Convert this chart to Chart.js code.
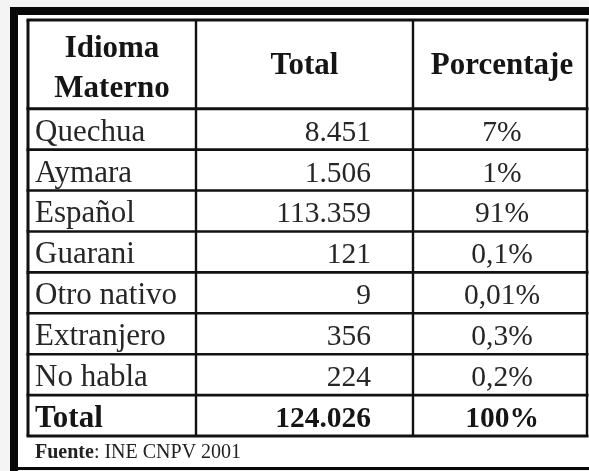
<!DOCTYPE html>
<html>
<head>
<meta charset="utf-8">
<script src="https://cdn.jsdelivr.net/npm/chart.js@4.4.1/dist/chart.umd.min.js"></script>
<style>
  html, body { margin: 0; padding: 0; background: #f4f4f4; }
  canvas { display: block; }
</style>
</head>
<body>
<canvas id="tabla" width="589" height="471"></canvas>
<script>
const encabezados = ['Idioma\nMaterno', 'Total', 'Porcentaje'];
const idiomas = ['Quechua', 'Aymara', 'Español', 'Guarani', 'Otro nativo', 'Extranjero', 'No habla'];
const totales = [8451, 1506, 113359, 121, 9, 356, 224];
const porcentajes = [7, 1, 91, 0.1, 0.01, 0.3, 0.2];
const filaTotal = ['Total', 124026, 100];
const fuente = ['Fuente', ': INE CNPV 2001'];

// layout of the grid, in scale units
const colEdges = [0, 168, 385, 559];
const headerRows = 2.17;
const yMax = headerRows + idiomas.length + 1;

const fmtMiles = v => String(v).replace(/\B(?=(\d{3})+(?!\d))/g, '.');
const fmtPct = v => String(v).replace('.', ',') + '%';

const SERIF = '"Liberation Serif", "Times New Roman", serif';

const tablePlugin = {
    id: 'tablePlugin',
    beforeDraw(chart) {
        const ctx = chart.ctx;
        ctx.save();
        ctx.fillStyle = '#f4f4f4';
        ctx.fillRect(0, 0, chart.width, chart.height);
        ctx.fillStyle = '#ffffff';
        ctx.fillRect(10, 7, chart.width - 10, 462);
        // outer frame of the scanned page
        ctx.fillStyle = '#080808';
        ctx.fillRect(10, 7, 8, chart.height - 7);
        ctx.fillRect(10, 7, chart.width - 10, 8);
        ctx.fillRect(10, 467, chart.width - 10, 3);
        ctx.restore();
    },
    afterDraw(chart) {
        const { ctx, scales: { x, y } } = chart;
        const rows = idiomas.length + 1;
        ctx.save();
        ctx.strokeStyle = '#111111';

        // horizontal rules
        const yEdges = [0, headerRows];
        for (let i = 1; i <= rows; i++) yEdges.push(headerRows + i);
        yEdges.forEach((v, i) => {
            const py = y.getPixelForValue(v);
            ctx.lineWidth = (i === 0 || i === 1 || i === yEdges.length - 1) ? 3 : 2.6;
            ctx.beginPath();
            ctx.moveTo(x.getPixelForValue(0) - 1.5, py);
            ctx.lineTo(x.getPixelForValue(colEdges[3]) + 1.5, py);
            ctx.stroke();
        });
        // vertical rules
        colEdges.forEach((v, i) => {
            const px = x.getPixelForValue(v);
            ctx.lineWidth = (i === 0) ? 3 : 2.4;
            ctx.beginPath();
            ctx.moveTo(px, y.getPixelForValue(0));
            ctx.lineTo(px, y.getPixelForValue(yMax));
            ctx.stroke();
        });

        const center = c => x.getPixelForValue((colEdges[c] + colEdges[c + 1]) / 2);
        const leftOf = c => x.getPixelForValue(colEdges[c]) + 7;
        const rightOf = c => x.getPixelForValue(colEdges[c + 1]) - 42;

        // header
        ctx.fillStyle = '#151515';
        ctx.font = 'bold 31px ' + SERIF;
        ctx.textAlign = 'center';
        ctx.textBaseline = 'alphabetic';
        const hTop = y.getPixelForValue(0);
        const hBot = y.getPixelForValue(headerRows);
        const lines = encabezados[0].split('\n');
        ctx.fillText(lines[0], center(0), hTop + 37);
        ctx.fillText(lines[1], center(0), hTop + 77);
        ctx.fillText(encabezados[1], center(1), (hTop + hBot) / 2 + 10);
        ctx.fillText(encabezados[2], center(2) + 2, (hTop + hBot) / 2 + 10);

        // body rows
        ctx.fillStyle = '#262626';
        const base = r => y.getPixelForValue(headerRows + r + 1) - 9;
        idiomas.forEach((name, r) => {
            ctx.font = '31px ' + SERIF;
            ctx.textAlign = 'left';
            ctx.fillText(name, leftOf(0), base(r));
            ctx.font = '29.5px ' + SERIF;
            ctx.textAlign = 'right';
            ctx.fillText(fmtMiles(totales[r]), rightOf(1), base(r));
            ctx.textAlign = 'center';
            ctx.fillText(fmtPct(porcentajes[r]), center(2) + 2, base(r));
        });

        // total row
        ctx.fillStyle = '#151515';
        const rt = idiomas.length;
        ctx.font = 'bold 31px ' + SERIF;
        ctx.textAlign = 'left';
        ctx.fillText(filaTotal[0], leftOf(0), base(rt));
        ctx.font = 'bold 29.5px ' + SERIF;
        ctx.textAlign = 'right';
        ctx.fillText(fmtMiles(filaTotal[1]), rightOf(1), base(rt));
        ctx.textAlign = 'center';
        ctx.fillText(fmtPct(filaTotal[2]), center(2) + 2, base(rt));

        // source note
        const fy = y.getPixelForValue(yMax) + 22;
        let fx = leftOf(0);
        ctx.fillStyle = '#222222';
        ctx.textAlign = 'left';
        ctx.font = 'bold 20px ' + SERIF;
        ctx.fillText(fuente[0], fx, fy);
        fx += ctx.measureText(fuente[0]).width;
        ctx.font = '20px ' + SERIF;
        ctx.fillText(fuente[1], fx, fy);
        ctx.restore();
    }
};

new Chart(document.getElementById('tabla'), {
    type: 'scatter',
    data: { datasets: [] },
    options: {
        responsive: false,
        animation: false,
        layout: {
            padding: { left: 28, top: 20, right: 2, bottom: 35 },
        },
        scales: {
            x: { type: 'linear', display: false, min: colEdges[0], max: colEdges[3] },
            y: { type: 'linear', display: false, reverse: true, min: 0, max: yMax },
        },
        plugins: {
            legend: { display: false },
            tooltip: { enabled: false },
        },
    },
    plugins: [tablePlugin],
});
</script>
</body>
</html>
